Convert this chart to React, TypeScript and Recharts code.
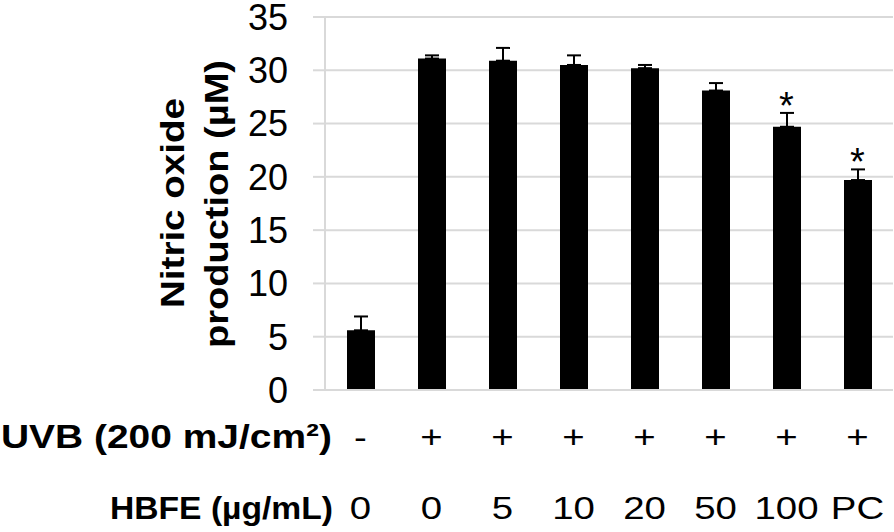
import React from 'react';
import { ComposedChart, Bar, ErrorBar, Line, XAxis, YAxis, CartesianGrid } from 'recharts';

const hbfeLabels = ['0', '0', '5', '10', '20', '50', '100', 'PC'];
const uvbSigns = ['-', '+', '+', '+', '+', '+', '+', '+'];
const noValues = [5.6, 31.1, 30.9, 30.5, 30.2, 28.1, 24.7, 19.7];
const noErrors = [1.3, 0.3, 1.2, 0.9, 0.3, 0.7, 1.3, 1.0];
const significance = ['', '', '', '', '', '', '*', '*'];
const yTicks = [0, 5, 10, 15, 20, 25, 30, 35];

const data = hbfeLabels.map((h, i) => ({
  hbfe: h,
  uvb: uvbSigns[i],
  value: noValues[i],
  err: [0, noErrors[i]],
  star: significance[i] ? noValues[i] + noErrors[i] : null,
  sig: significance[i],
}));

const FONT = '"Liberation Sans", Arial, sans-serif';
const GRID = '#d9d9d9';

const XTick = (props: any) => {
  const { x, index } = props;
  return (
    <g>
      <text transform={`translate(${x},448) scale(1.2,1)`} textAnchor="middle" fontSize={32} fontFamily={FONT} fill="#000">
        {uvbSigns[index]}
      </text>
      <text transform={`translate(${x},519) scale(1.2,1)`} textAnchor="middle" fontSize={32} fontFamily={FONT} fill="#000">
        {hbfeLabels[index]}
      </text>
    </g>
  );
};

const YTick = (props: any) => {
  const { x, y, payload } = props;
  return (
    <text x={x - 23} y={y + 12.8} textAnchor="end" fontSize={36} fontFamily={FONT} fill="#000">
      {payload.value}
    </text>
  );
};

const StarDot = (props: any) => {
  const { cx, cy, payload, index } = props;
  if (!payload || !payload.sig || cx == null || cy == null) return <g key={`s${index}`} />;
  return (
    <text key={`s${index}`} x={cx} y={cy + 6} textAnchor="middle" fontSize={38} fontFamily={FONT} fill="#000">
      {payload.sig}
    </text>
  );
};

export default function App() {
  return (
    <div style={{ position: 'absolute', left: 0, top: 0, width: 894, height: 532, background: '#fff' }}>
      <ComposedChart
        width={894}
        height={532}
        data={data}
        margin={{ top: 17, right: 1, bottom: 12, left: 225 }}
        barSize={28}
      >
        <CartesianGrid horizontal vertical={false} stroke={GRID} strokeWidth={2} />
        <XAxis
          dataKey="hbfe"
          interval={0}
          height={130}
          axisLine={{ stroke: GRID, strokeWidth: 2 }}
          tickLine={false}
          tick={<XTick />}
        />
        <YAxis
          domain={[0, 35]}
          ticks={yTicks}
          width={100}
          axisLine={{ stroke: GRID, strokeWidth: 2 }}
          tickLine={{ stroke: GRID, strokeWidth: 2 }}
          tickSize={12}
          tick={<YTick />}
        />
        <Bar dataKey="value" fill="#000" isAnimationActive={false}>
          <ErrorBar dataKey="err" width={7} stroke="#000" strokeWidth={2} direction="y" />
        </Bar>
        <Line
          dataKey="star"
          stroke="none"
          dot={<StarDot />}
          activeDot={false}
          isAnimationActive={false}
          legendType="none"
        />
      </ComposedChart>
      <svg width={894} height={532} style={{ position: 'absolute', left: 0, top: 0, pointerEvents: 'none' }}>
        <text transform="translate(184,203) rotate(-90)" textAnchor="middle" fontWeight="bold" fontSize={33} fontFamily={FONT} textLength={210} lengthAdjust="spacingAndGlyphs">
          Nitric oxide
        </text>
        <text transform="translate(228,204) rotate(-90)" textAnchor="middle" fontWeight="bold" fontSize={33} fontFamily={FONT} textLength={288} lengthAdjust="spacingAndGlyphs">
          production (µM)
        </text>
        <text x={1} y={448} fontWeight="bold" fontSize={34} fontFamily={FONT} textLength={331} lengthAdjust="spacingAndGlyphs">
          UVB (200 mJ/cm²)
        </text>
        <text x={110} y={519} fontWeight="bold" fontSize={32} fontFamily={FONT} textLength={223} lengthAdjust="spacingAndGlyphs">
          HBFE (µg/mL)
        </text>
      </svg>
    </div>
  );
}
